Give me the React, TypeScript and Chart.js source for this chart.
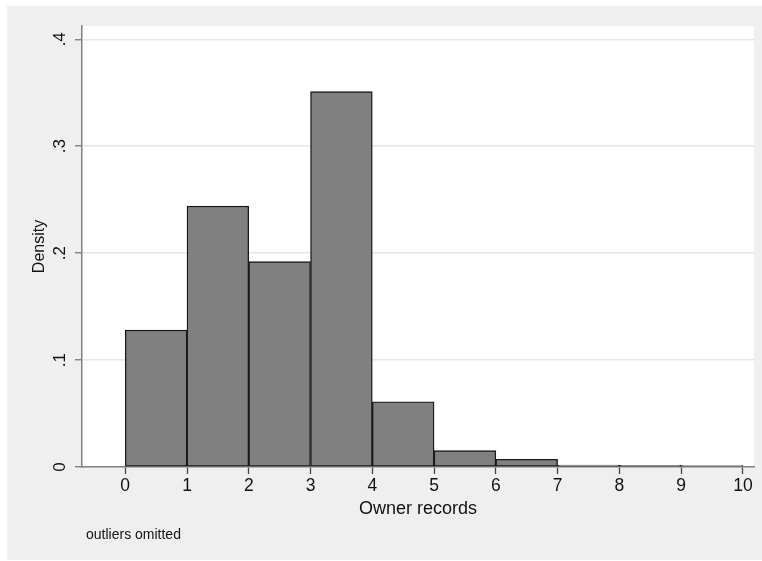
import React, { useEffect, useRef } from "react";
import { Chart, registerables } from "chart.js";

Chart.register(...registerables);

const binStarts = [0, 1, 2, 3, 4, 5, 6, 7, 8, 9];
const densities = [0.128, 0.244, 0.192, 0.351, 0.061, 0.0153, 0.0072, 0.0018, 0.0015, 0.0013];
const binWidth = 1;
const xTicks = [0, 1, 2, 3, 4, 5, 6, 7, 8, 9, 10];
const yTicks = [0, 0.1, 0.2, 0.3, 0.4];
const yTickLabels = ["0", ".1", ".2", ".3", ".4"];
const xTitle = "Owner records";
const yTitle = "Density";
const noteText = "outliers omitted";

const FONT = "'Liberation Sans', Arial, Helvetica, sans-serif";

export default function App() {
  const ref = useRef<HTMLCanvasElement | null>(null);

  useEffect(() => {
    document.body.style.margin = "0";
    const canvas = ref.current;
    if (!canvas) return;

    const bgPlugin = {
      id: "bgPlugin",
      beforeDraw(chart: any) {
        const { ctx, chartArea } = chart;
        ctx.save();
        ctx.fillStyle = "#ffffff";
        ctx.fillRect(0, 0, chart.width, chart.height);
        ctx.fillStyle = "#efefef";
        ctx.fillRect(7, 6, 755, 554);
        ctx.fillStyle = "#ffffff";
        ctx.fillRect(chartArea.left, chartArea.top, chartArea.right - chartArea.left, chartArea.bottom - chartArea.top);
        ctx.restore();
      },
      afterDraw(chart: any) {
        const { ctx } = chart;
        const yScale = chart.scales.y;
        ctx.save();
        ctx.fillStyle = "#111111";
        ctx.font = `17px ${FONT}`;
        ctx.textAlign = "center";
        ctx.textBaseline = "middle";
        yTicks.forEach((v, i) => {
          const py = yScale.getPixelForValue(v);
          ctx.save();
          ctx.translate(60, py);
          ctx.rotate(-Math.PI / 2);
          ctx.fillText(yTickLabels[i], 0, 0);
          ctx.restore();
        });
        ctx.font = `14px ${FONT}`;
        ctx.textAlign = "left";
        ctx.textBaseline = "alphabetic";
        ctx.fillText(noteText, 86, 539);
        ctx.restore();
      },
    };

    const chart = new Chart(canvas, {
      type: "bar",
      data: {
        datasets: [
          {
            data: binStarts.map((s, i) => ({ x: s + binWidth / 2, y: densities[i] })),
            backgroundColor: "#808080",
            borderColor: "#1a1a1a",
            borderWidth: 1.4,
            borderSkipped: false,
            barPercentage: 1,
            categoryPercentage: 1,
          } as any,
        ],
      },
      options: {
        animation: false,
        responsive: false,
        devicePixelRatio: 1,
        layout: { padding: { left: 0, top: 26, right: 8, bottom: 34 } },
        plugins: { legend: { display: false }, tooltip: { enabled: false } },
        scales: {
          x: {
            type: "linear",
            offset: false,
            min: -0.7,
            max: 10.18,
            afterBuildTicks(scale: any) {
              scale.ticks = xTicks.map((v) => ({ value: v }));
            },
            afterFit(scale: any) {
              scale.height = 60;
            },
            grid: {
              offset: false,
              drawOnChartArea: false,
              drawTicks: true,
              tickLength: 7,
              tickColor: "#444444",
              tickWidth: 1.3,
            },
            border: { display: true, color: "#808080", width: 1.5 },
            ticks: {
              color: "#111111",
              font: { family: FONT, size: 17.5 },
              padding: 2,
              maxRotation: 0,
              minRotation: 0,
              callback: (v: any) => String(v),
            },
            title: {
              display: true,
              text: xTitle,
              color: "#111111",
              font: { family: FONT, size: 18 },
              padding: { top: 0, bottom: 7 },
            },
          },
          y: {
            type: "linear",
            min: 0,
            max: 0.4124,
            afterBuildTicks(scale: any) {
              scale.ticks = yTicks.map((v) => ({ value: v }));
            },
            afterFit(scale: any) {
              scale.width = 82;
            },
            grid: {
              drawOnChartArea: true,
              drawTicks: true,
              tickLength: 7,
              lineWidth: 1.5,
              color: (c: any) => (c.tick && c.tick.value === 0 ? "rgba(0,0,0,0)" : "#e6e6e6"),
              tickColor: "#777777",
              tickWidth: 1.3,
            },
            border: { display: true, color: "#808080", width: 1.5 },
            ticks: { display: false },
            title: {
              display: true,
              text: yTitle,
              color: "#111111",
              font: { family: FONT, size: 16 },
              padding: { top: 30, bottom: 0 },
            },
          },
        },
      },
      plugins: [bgPlugin],
    });

    return () => chart.destroy();
  }, []);

  return <canvas ref={ref} width={762} height={561} style={{ display: "block", width: 762, height: 561 }} />;
}
